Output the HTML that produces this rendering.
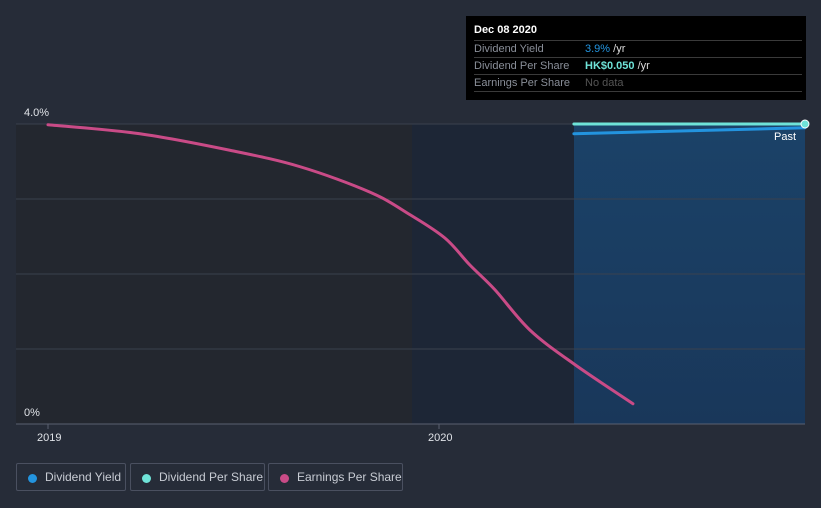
<!DOCTYPE html>
<html><head><meta charset="utf-8"><style>
html,body{margin:0;width:821px;height:508px;overflow:hidden}
body{background:#262c38;font-family:"Liberation Sans",sans-serif;position:relative}
.tt{position:absolute;left:466px;top:16px;width:340px;height:84px;background:#000;color:#fff}
.tt .h{position:absolute;left:8px;top:8px;font-weight:bold;font-size:11px}
.tt .r{position:absolute;left:8px;width:328px;border-top:1px solid #3a3a3a;font-size:11px;color:#8a8f99;height:16px;line-height:16px;white-space:nowrap}
.tt .r span{position:absolute;left:111px}
.leg{position:absolute;top:463px;height:28px;border:1px solid #4a5060;border-radius:2px;color:#c8ccd4;font-size:12px;line-height:27px;box-sizing:border-box;white-space:nowrap}
.leg i{position:absolute;left:11px;top:10px;width:9px;height:9px;border-radius:50%}
.leg b{font-weight:normal;position:absolute;left:28px}
</style></head><body>
<svg width="821" height="508" style="position:absolute;left:0;top:0" id="chart">
<defs><linearGradient id="pg" x1="0" y1="0" x2="0" y2="1"><stop offset="0" stop-color="#1b4268"/><stop offset="1" stop-color="#19375a"/></linearGradient></defs>
<rect x="16" y="124" width="396" height="300" fill="#23272f"/>
<rect x="412" y="124" width="162" height="300" fill="#1d2636"/>
<rect x="574" y="124" width="231" height="300" fill="url(#pg)"/>
<g id="grid"></g><g id="series"></g>
<line x1="16" y1="424" x2="805" y2="424" stroke="#5a6070"/>
<text x="24" y="116" fill="#e0e3e8" font-size="11">4.0%</text>
<text x="24" y="416" fill="#e0e3e8" font-size="11">0%</text>
<text x="774" y="140" fill="#fff" font-size="11">Past</text>
<g id="xt"></g>
</svg>
<div class="tt">
<div class="h">Dec 08 2020</div>
<div class="r" style="top:24px">Dividend Yield<span><b style="color:#2394df;font-weight:normal">3.9%</b> <span style="position:static;color:#ddd">/yr</span></span></div>
<div class="r" style="top:41px">Dividend Per Share<span><b style="color:#6fe3d8">HK$0.050</b> <span style="position:static;color:#ddd">/yr</span></span></div>
<div class="r" style="top:58px;border-bottom:1px solid #3a3a3a">Earnings Per Share<span style="color:#555">No data</span></div>
</div>
<div class="leg" style="left:16px;width:110px"><i style="background:#2394df"></i><b>Dividend Yield</b></div>
<div class="leg" style="left:130px;width:135px"><i style="background:#6fe3d8"></i><b>Dividend Per Share</b></div>
<div class="leg" style="left:268px;width:135px"><i style="background:#c94b87"></i><b>Earnings Per Share</b></div>
<script>
const xTicks=[2019,2020];
const yGrid=[1,2,3,4];
const epsT=[2019.0,2019.235,2019.465,2019.645,2019.824,2019.926,2020.015,2020.079,2020.143,2020.233,2020.348,2020.496];
const epsV=[3.99,3.87,3.65,3.43,3.09,2.79,2.48,2.12,1.79,1.25,0.79,0.27];
const yieldT=[2020.345,2020.936];
const yieldV=[3.87,3.95];
const dpsT=[2020.345,2020.936];
const dpsV=[4.0,4.0];
const X=t=>48+(t-2019)*391, Y=v=>424-v*75;
const ns="http://www.w3.org/2000/svg";
const g=document.getElementById('grid'),s=document.getElementById('series'),xt=document.getElementById('xt');
yGrid.forEach(v=>{const l=document.createElementNS(ns,'line');


l.setAttribute('x1',16);l.setAttribute('x2',805);l.setAttribute('y1',Y(v));l.setAttribute('y2',Y(v));l.setAttribute('stroke','#3a414e');g.appendChild(l);});
xTicks.forEach(t=>{const l=document.createElementNS(ns,'line');


l.setAttribute('x1',X(t));l.setAttribute('x2',X(t));l.setAttribute('y1',424);l.setAttribute('y2',429);l.setAttribute('stroke','#5a6070');xt.appendChild(l);
const tx=document.createElementNS(ns,'text');


tx.setAttribute('x',X(t)-11);tx.setAttribute('y',441);tx.setAttribute('fill','#e0e3e8');tx.setAttribute('font-size','11');tx.textContent=t;xt.appendChild(tx);});
function path(T,V,c,name,w){const P=T.map((t,i)=>[X(t),Y(V[i])]);
let d='M'+P[0][0]+','+P[0][1];
for(let i=0;i<P.length-1;i++){const p0=P[i-1]||P[i],p1=P[i],p2=P[i+1],p3=P[i+2]||p2;
d+=' C'+(p1[0]+(p2[0]-p0[0])/6)+','+(p1[1]+(p2[1]-p0[1])/6)+' '+(p2[0]-(p3[0]-p1[0])/6)+','+(p2[1]-(p3[1]-p1[1])/6)+' '+p2[0]+','+p2[1];}
const p=document.createElementNS(ns,'path');


p.setAttribute('d',d);p.setAttribute('fill','none');p.setAttribute('stroke',c);p.setAttribute('stroke-width',w);p.setAttribute('stroke-linecap','round');s.appendChild(p);}
path(epsT,epsV,'#c94b87','eps-line',3);
path(yieldT,yieldV,'#2394df','dividend-yield-line',3);
path(dpsT,dpsV,'#6fe3d8','dividend-per-share-line',3);
const c=document.createElementNS(ns,'circle');


c.setAttribute('cx',X(dpsT[1]));c.setAttribute('cy',Y(dpsV[1]));c.setAttribute('r',4);c.setAttribute('fill','#6fe3d8');c.setAttribute('stroke','#fff');s.appendChild(c);
</script>
</body></html>
